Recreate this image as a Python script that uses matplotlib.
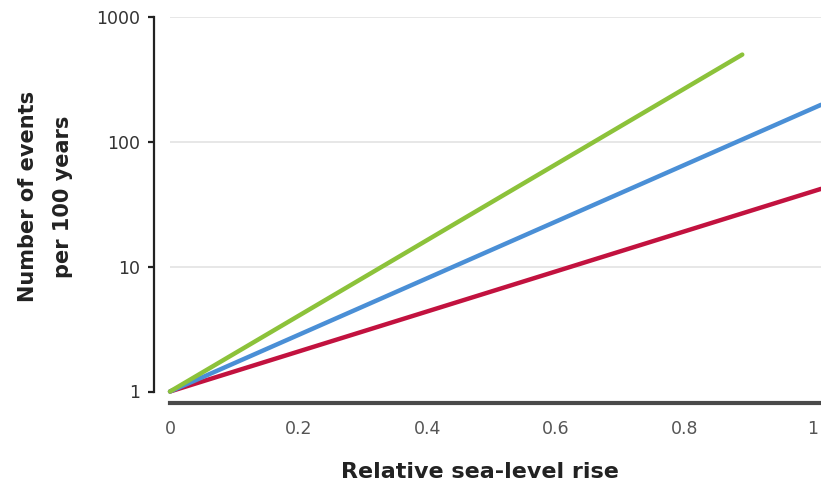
import matplotlib
matplotlib.use("Agg")
import matplotlib.pyplot as plt
from matplotlib.ticker import NullLocator, FixedLocator, FixedFormatter

# Event frequency vs relative sea-level rise (log scale)
green_x = [0.0, 0.89]
green_y = [1, 500]
blue_x = [0.0, 1.0125]
blue_y = [1, 198]
red_x = [0.0, 1.0125]
red_y = [1, 42]

x_ticks = [0, 0.2, 0.4, 0.6, 0.8, 1]
x_tick_labels = ["0", "0.2", "0.4", "0.6", "0.8", "1"]
y_ticks = [1, 10, 100, 1000]
y_tick_labels = ["1", "10", "100", "1000"]
grid_levels = [10, 100, 1000]

GREEN = "#8cc23a"
BLUE = "#4a8fd6"
RED = "#c2123f"

plt.rcParams["font.family"] = ["DejaVu Sans"]

W, H = 821, 484
fig = plt.figure(figsize=(W / 100, H / 100), dpi=100)
ax = fig.add_axes([170 / W, 1 - 391.5 / H, (W - 170) / W, (391.5 - 17) / H])

ax.set_yscale("log")
ax.set_xlim(0, (W - 170) / 643)
ax.set_ylim(1, 1000)

for lvl in grid_levels:
    ax.axhline(lvl, color="#e3e3e3", lw=1.2, zorder=0)

for xs, ys, c in [(red_x, red_y, RED), (blue_x, blue_y, BLUE), (green_x, green_y, GREEN)]:
    ax.plot(xs, ys, color=c, lw=3.2, solid_capstyle="round", clip_on=False, zorder=3)

for s in ["top", "right"]:
    ax.spines[s].set_visible(False)
ax.spines["left"].set_position(("outward", 11.5))
ax.spines["left"].set_bounds(1, 1000)
ax.spines["left"].set_color("#222222")
ax.spines["left"].set_linewidth(1.6)
ax.spines["bottom"].set_position(("outward", 8.5))
ax.spines["bottom"].set_color("#4a4a4a")
ax.spines["bottom"].set_linewidth(3)

ax.xaxis.set_major_locator(FixedLocator(x_ticks))
ax.xaxis.set_major_formatter(FixedFormatter(x_tick_labels))
ax.yaxis.set_major_locator(FixedLocator(y_ticks))
ax.yaxis.set_major_formatter(FixedFormatter(y_tick_labels))
ax.xaxis.set_minor_locator(NullLocator())
ax.yaxis.set_minor_locator(NullLocator())

ax.tick_params(axis="x", length=0, pad=12, labelsize=12.5, labelcolor="#555555")
ax.tick_params(axis="y", length=4, width=1.6, color="#222222", pad=6,
               labelsize=12.5, labelcolor="#333333")

ax.set_xlabel("Relative sea-level rise", fontsize=16, fontweight="bold",
              color="#222222", labelpad=13)
ax.xaxis.set_label_coords((480 - 170) / (W - 170), -0.215)
ax.xaxis.label.set_verticalalignment("center")
ax.set_ylabel("Number of events\nper 100 years", fontsize=15, fontweight="bold",
              color="#222222", labelpad=16, linespacing=1.95)
ax.yaxis.set_label_coords((73 - 170) / (W - 170), 0.52)

fig.savefig("out.png", dpi=100, facecolor="white")
